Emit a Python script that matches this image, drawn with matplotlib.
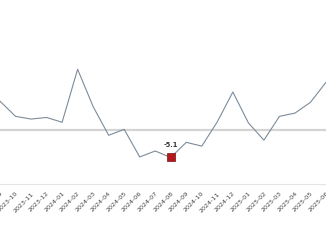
import matplotlib
matplotlib.use("Agg")
from matplotlib import pyplot as plt

# monthly values
months = ["2023-09", "2023-10", "2023-11", "2023-12", "2024-01", "2024-02",
          "2024-03", "2024-04", "2024-05", "2024-06", "2024-07", "2024-08",
          "2024-09", "2024-10", "2024-11", "2024-12", "2025-01", "2025-02",
          "2025-03", "2025-04", "2025-05", "2025-06"]
values = [5.3, 2.5, 2.0, 2.3, 1.4, 11.2, 4.3, -1.0, 0.1, -5.0, -3.9, -5.1,
          -2.3, -3.0, 1.5, 7.0, 1.3, -1.9, 2.5, 3.1, 5.1, 8.8]
highlight = 11  # 2024-08

fig = plt.figure(figsize=(3.26, 2.45), dpi=100)
ax = fig.add_axes([0, 1 - 184 / 245, 1, 184 / 245])

x = list(range(len(months)))
ax.axhline(0, color="#d4d4d4", linewidth=1.6, zorder=1)
ax.plot(x, values, color="#7d8b99", linewidth=0.8, zorder=2)
ax.plot(x[highlight], values[highlight], marker="s", markersize=5.5,
        color="#b3191c", markeredgecolor="#7a1010", markeredgewidth=0.5, zorder=3)
ax.annotate("%.1f" % values[highlight], (x[highlight], values[highlight]),
            xytext=(0, 7), textcoords="offset points", ha="center", va="bottom",
            fontsize=4.8, fontweight="bold", color="#333333")

ax.set_xlim(0.55, 20.7)
ax.set_ylim(-10, 24)

# labels hang off the tick, cropped at the edges like the original
ax.set_xticks(x)
ax.set_xticklabels(months, rotation=45, ha="right", rotation_mode="anchor",
                   fontsize=4.6, color="#444444")
ax.tick_params(axis="x", length=0, pad=5)
ax.set_yticks([])

for s in ["top", "left", "right"]:
    ax.spines[s].set_visible(False)
ax.spines["bottom"].set_color("#e3e3e3")
ax.spines["bottom"].set_linewidth(0.8)

fig.savefig("out.png", dpi=100)
